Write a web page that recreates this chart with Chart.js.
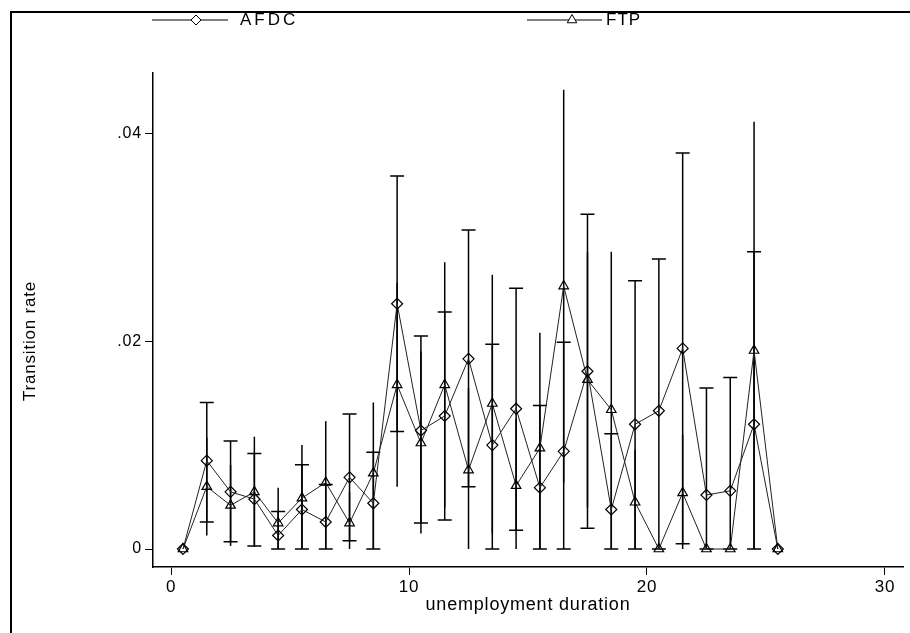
<!DOCTYPE html>
<html>
<head>
<meta charset="utf-8">
<script src="https://cdn.jsdelivr.net/npm/chart.js@4/dist/chart.umd.min.js"></script>
<style>
  html, body { margin: 0; padding: 0; background: #fff; }
  #wrap { width: 910px; height: 633px; }
</style>
</head>
<body>
<div id="wrap"><canvas id="rateChart" width="910" height="633"></canvas></div>
<script>
const durations = [0.5, 1.5, 2.5, 3.5, 4.5, 5.5, 6.5, 7.5, 8.5, 9.5, 10.5, 11.5, 12.5,
                   13.5, 14.5, 15.5, 16.5, 17.5, 18.5, 19.5, 20.5, 21.5, 22.5, 23.5, 24.5, 25.5];

const afdcRate = [0, 0.0085, 0.0055, 0.0048, 0.0013, 0.0038, 0.0026, 0.0069, 0.0044, 0.0236, 0.0114, 0.0128, 0.0183,
                  0.0100, 0.0135, 0.0059, 0.0094, 0.0171, 0.0038, 0.0120, 0.0133, 0.0193, 0.0052, 0.0056, 0.0120, 0];
const afdcLo = [0, 0.0026, 0.0007, 0.0003, 0, 0, 0, 0.0008, 0, 0.0113, 0.0025, 0.0028, 0.0060,
                0, 0.0018, 0, 0, 0.0020, 0, 0, 0, 0.0005, 0, 0, 0, 0];
const afdcHi = [0, 0.0141, 0.0104, 0.0092, 0.0036, 0.0081, 0.0062, 0.0130, 0.0093, 0.0359, 0.0205, 0.0228, 0.0307,
                0.0197, 0.0251, 0.0138, 0.0199, 0.0322, 0.0111, 0.0258, 0.0279, 0.0381, 0.0155, 0.0165, 0.0286, 0];

const ftpRate = [0, 0.0060, 0.0042, 0.0055, 0.0025, 0.0049, 0.0064, 0.0025, 0.0073, 0.0158, 0.0102, 0.0158, 0.0076,
                 0.0140, 0.0061, 0.0097, 0.0253, 0.0163, 0.0134, 0.0045, 0, 0.0054, 0, 0, 0.0191, 0];
const ftpLo = [0, 0.0013, 0.0003, 0.0002, 0, 0, 0, 0, 0, 0.0060, 0.0015, 0.0040, 0,
               0.0015, 0, 0, 0.0064, 0.0040, 0, 0, 0, 0, 0, 0, 0, 0];
const ftpHi = [0, 0.0107, 0.0081, 0.0108, 0.0059, 0.0100, 0.0123, 0.0055, 0.0141, 0.0256, 0.0190, 0.0276, 0.0155,
               0.0264, 0.0125, 0.0208, 0.0442, 0.0286, 0.0286, 0.0095, 0, 0.0110, 0, 0, 0.0411, 0];

const xTicks = [0, 10, 20, 30];
const yTicks = [0, 0.02, 0.04];

const FONT = "'Liberation Sans', Arial, sans-serif";

// wider letter spacing like the original Stata output
const spacing = {
    id: 'spacing',
    beforeDraw(chart) {
        chart.ctx.letterSpacing = '0.8px';
    }
};

// AFDC intervals have caps, FTP intervals are plain spikes
const errorBars = {
    id: 'errorBars',
    beforeDatasetsDraw(chart) {
        const { ctx, scales: { x, y } } = chart;
        ctx.save();
        ctx.strokeStyle = '#000';
        ctx.lineWidth = 1.5;
        durations.forEach((d, i) => {
            const px = x.getPixelForValue(d);
            const bars = [[ftpLo[i], ftpHi[i], false], [afdcLo[i], afdcHi[i], true]];
            bars.forEach(([lo, hi, cap]) => {
                if (lo === hi) return;
                const y1 = y.getPixelForValue(lo);
                const y2 = y.getPixelForValue(hi);
                ctx.beginPath();
                ctx.moveTo(px, y1);
                ctx.lineTo(px, y2);
                if (cap) {
                    ctx.moveTo(px - 7, y1); ctx.lineTo(px + 7, y1);
                    ctx.moveTo(px - 7, y2); ctx.lineTo(px + 7, y2);
                }
                ctx.stroke();
            });
        });
        ctx.restore();
    }
};

// outer frame, y title and the top legend row
const frameAndLegend = {
    id: 'frameAndLegend',
    afterDraw(chart) {
        const ctx = chart.ctx;
        ctx.save();
        ctx.strokeStyle = '#000';
        ctx.lineWidth = 2;
        ctx.beginPath();
        ctx.moveTo(11, 633);
        ctx.lineTo(11, 12);
        ctx.lineTo(910, 12);
        ctx.stroke();

        ctx.fillStyle = '#000';
        ctx.font = '17px ' + FONT;
        ctx.textBaseline = 'middle';
        ctx.textAlign = 'center';
        ctx.save();
        ctx.translate(30, 341);
        ctx.rotate(-Math.PI / 2);
        ctx.fillText('Transition rate', 0, 0);
        ctx.restore();

        const items = [
            { text: 'AFDC', style: 'rectRot', r: 5, x0: 152, x1: 228, mx: 196, tx: 240, sp: '3px' },
            { text: 'FTP', style: 'triangle', r: 5.5, x0: 527, x1: 602, mx: 572, tx: 606, sp: '1px' }
        ];
        const ly = 20;
        items.forEach(it => {
            ctx.strokeStyle = '#000';
            ctx.lineWidth = 1;
            ctx.beginPath();
            ctx.moveTo(it.x0, ly);
            ctx.lineTo(it.x1, ly);
            ctx.stroke();
            ctx.fillStyle = '#fff';
            Chart.helpers.drawPoint(ctx, { pointStyle: it.style, radius: it.r, borderWidth: 1 }, it.mx, ly);
            ctx.fillStyle = '#000';
            ctx.font = '17px ' + FONT;
            ctx.letterSpacing = it.sp;
            ctx.textAlign = 'left';
            ctx.fillText(it.text, it.tx, ly);
        });
        ctx.restore();
    }
};

const ctx = document.getElementById('rateChart').getContext('2d');
new Chart(ctx, {
    type: 'line',
    data: {
        datasets: [{
            label: 'AFDC',
            data: durations.map((d, i) => ({ x: d, y: afdcRate[i] })),
            borderColor: '#222',
            borderWidth: 1,
            pointStyle: 'rectRot',
            pointRadius: 5.5,
            pointBorderWidth: 1.2,
            pointBorderColor: '#000',
            pointBackgroundColor: 'rgba(0,0,0,0)',
            tension: 0
        }, {
            label: 'FTP',
            data: durations.map((d, i) => ({ x: d, y: ftpRate[i] })),
            borderColor: '#222',
            borderWidth: 1,
            pointStyle: 'triangle',
            pointRadius: 5.5,
            pointBorderWidth: 1.2,
            pointBorderColor: '#000',
            pointBackgroundColor: 'rgba(0,0,0,0)',
            tension: 0
        }]
    },
    options: {
        responsive: false,
        animation: false,
        layout: { padding: { left: 18, top: 73, right: 7, bottom: 17 } },
        plugins: {
            legend: { display: false },
            tooltip: { enabled: false }
        },
        scales: {
            x: {
                type: 'linear',
                min: -0.76,
                max: 30.76,
                afterBuildTicks: s => { s.ticks = xTicks.map(v => ({ value: v })); },
                afterFit: s => { s.height = 49; },
                grid: { display: true, drawOnChartArea: false, drawTicks: true, tickLength: 8, color: '#000', lineWidth: 1 },
                border: { display: true, color: '#000', width: 1.5 },
                ticks: { color: '#000', font: { family: FONT, size: 17 }, padding: 2, maxRotation: 0 },
                title: { display: true, text: 'unemployment duration', color: '#000', font: { family: FONT, size: 18 }, padding: 0 }
            },
            y: {
                min: -0.00173,
                max: 0.0458,
                afterBuildTicks: s => { s.ticks = yTicks.map(v => ({ value: v })); },
                afterFit: s => { s.width = 135; },
                grid: { display: true, drawOnChartArea: false, drawTicks: true, tickLength: 8, color: '#000', lineWidth: 1 },
                border: { display: true, color: '#000', width: 1.5 },
                ticks: {
                    color: '#000',
                    font: { family: FONT, size: 16 },
                    padding: 3,
                    callback: v => v === 0 ? '0' : String(+v.toFixed(2)).replace('0.', '.')
                },
                title: { display: false }
            }
        }
    },
    plugins: [spacing, errorBars, frameAndLegend]
});
</script>
</body>
</html>
